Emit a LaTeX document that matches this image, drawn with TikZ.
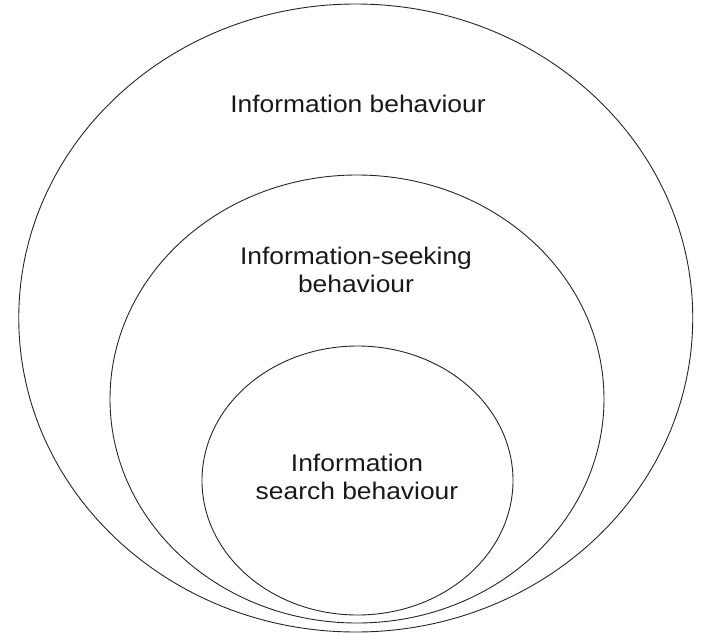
\documentclass[tikz,border=0pt]{standalone}
\usepackage{fontspec}
\setmainfont{Liberation Sans}
\usetikzlibrary{shapes.geometric}
\begin{document}
\begin{tikzpicture}[x=1pt,y=-1pt,
  ring/.style={ellipse,draw=black!85,line width=0.9pt,inner sep=0pt,outer sep=0pt},
  lbl/.style={align=center,inner sep=0pt,font=\fontsize{24}{28.5}\selectfont,text=black!90}]
\useasboundingbox (0,0) rectangle (718,643);
\node[ring,minimum width=674pt,minimum height=628pt] (outer) at (355.75,318) {};
\node[ring,minimum width=494pt,minimum height=448pt] (middle) at (357,399) {};
\node[ring,minimum width=311pt,minimum height=269pt] (inner) at (357.5,480.5) {};
\node[lbl] (tout) at (358,104) {\scalebox{1.1}[1]{Information behaviour}};
\node[lbl] (tmid) at (356,270) {\scalebox{1.1}[1]{Information-seeking}\\\scalebox{1.1}[1]{behaviour}};
\node[lbl] (tin) at (357,477) {\scalebox{1.1}[1]{Information}\\\scalebox{1.1}[1]{search behaviour}};
\end{tikzpicture}
\end{document}
